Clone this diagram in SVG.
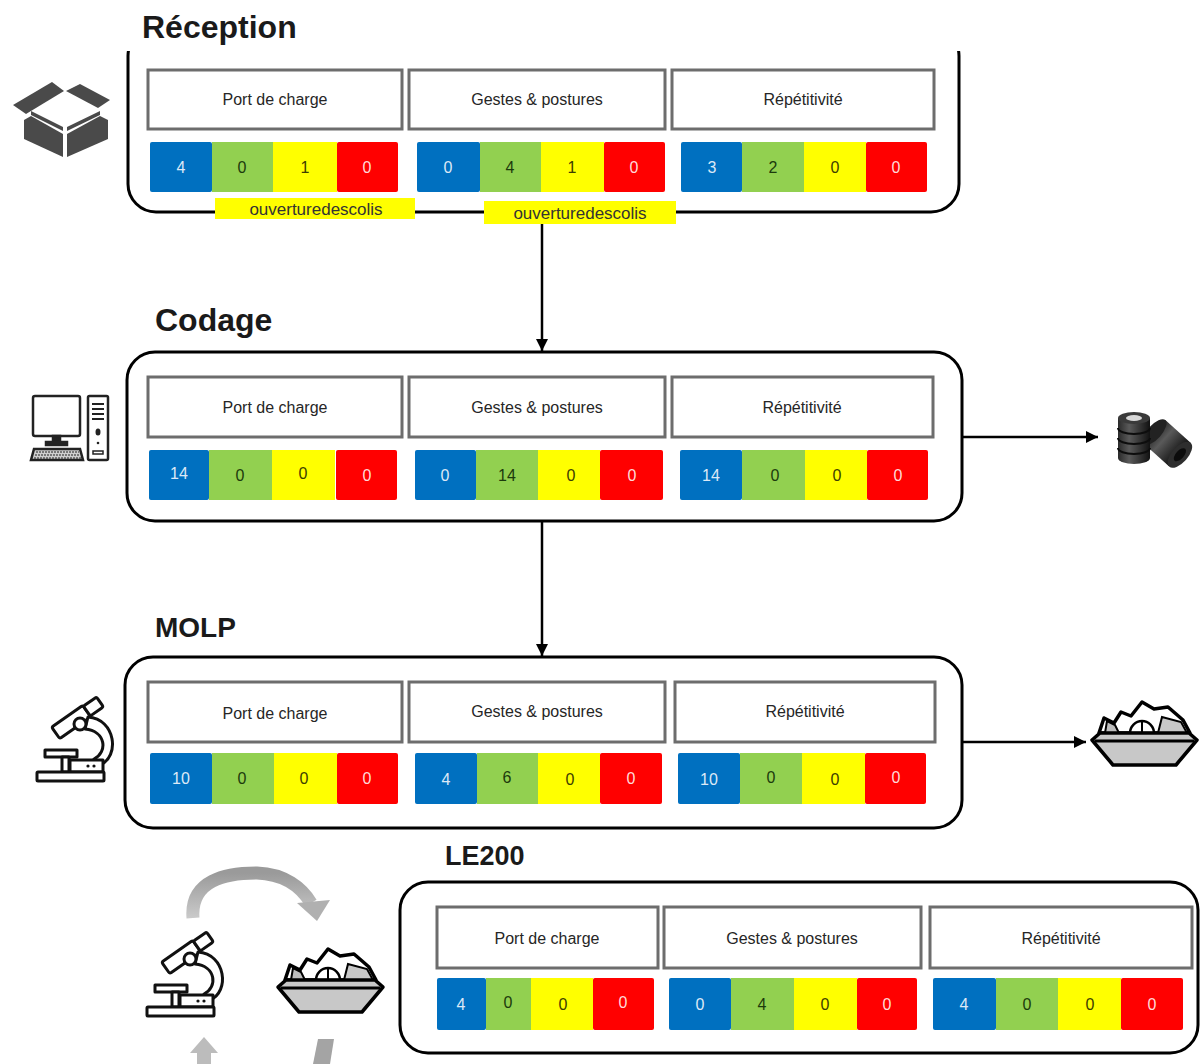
<svg xmlns="http://www.w3.org/2000/svg" width="1203" height="1064" viewBox="0 0 1203 1064">
  <style>
    .panel { fill: none; stroke: #000; stroke-width: 3; }
    .hdr { fill: #fff; stroke: #6d6d6d; stroke-width: 3; }
    .ht { font-family: "Liberation Sans", Arial, sans-serif; font-size: 16px; fill: #262626; text-anchor: middle; }
    .title { font-family: "Liberation Sans", Arial, sans-serif; font-weight: bold; fill: #1a1a1a; }
    .b { fill: #0070c0; } .g { fill: #92d050; } .y { fill: #ffff00; } .r { fill: #ff0000; }
    .n { font-family: "Liberation Sans", Arial, sans-serif; font-size: 16px; text-anchor: middle; }
    .nb { fill: #dce9f7; } .ng { fill: #1c3a0c; } .ny { fill: #3d3d00; } .nr { fill: #ffd9d9; }
    .lbl { fill: #ffff00; }
    .lt { font-family: "Liberation Sans", Arial, sans-serif; font-size: 17px; fill: #333; text-anchor: middle; }
    .conn { fill: none; stroke: #000; stroke-width: 2.5; }
    .ico { fill: #fff; stroke: #111; stroke-width: 3; stroke-linejoin: round; }
  </style>
  <defs>
    <marker id="arrow" viewBox="0 0 10 10" refX="10" refY="5" markerWidth="5" markerHeight="5" orient="auto">
      <path d="M0,0 L10,5 L0,10 Z" fill="#000"/>
    </marker>
    <clipPath id="topClip"><rect x="0" y="51" width="1203" height="200"/></clipPath>
    <linearGradient id="greyArc" x1="0" y1="0" x2="0" y2="1">
      <stop offset="0" stop-color="#9a9a9a"/>
      <stop offset="1" stop-color="#cacaca"/>
    </linearGradient>
    <linearGradient id="rollShade" x1="0" y1="0" x2="1" y2="0">
      <stop offset="0" stop-color="#2a2a2a"/>
      <stop offset="0.35" stop-color="#5a5a5a"/>
      <stop offset="1" stop-color="#111"/>
    </linearGradient>
    <!-- microscope outline icon, 80x86 -->
    <g id="microscope">
      <g transform="translate(47,21) rotate(-35)">
        <rect class="ico" x="-26" y="-7" width="38" height="14" rx="2"/>
        <rect class="ico" x="12" y="-6" width="16" height="12" rx="2"/>
      </g>
      <path class="ico" d="M58,20 C86,22 90,60 70,68 L64,62 C78,55 76,34 55,32 Z"/>
      <circle class="ico" cx="50" cy="27" r="6"/>
      <rect class="ico" x="15" y="53" width="32" height="7"/>
      <rect class="ico" x="32" y="60" width="7" height="15"/>
      <rect class="ico" x="40" y="63" width="33" height="12"/>
      <circle cx="58" cy="69" r="1.6" fill="#111"/>
      <circle cx="64" cy="69" r="1.6" fill="#111"/>
      <rect class="ico" x="7" y="75" width="67" height="9" rx="1"/>
    </g>
    <!-- bowl of shards icon, 105x68 -->
    <g id="bowl">
      <path d="M7,33 L12,18 L22,23 L29,12 L39,16 L50,2 L62,9 L76,7 L91,20 L98,33 Z" fill="#fff" stroke="#000" stroke-width="3.5" stroke-linejoin="round"/>
      <path d="M13,33 L15,21 L23,25 L27,33 Z" fill="#bdbdbd" stroke="#000" stroke-width="2"/>
      <path d="M66,33 L70,17 L89,22 L95,33 Z" fill="#c8c8c8" stroke="#000" stroke-width="2"/>
      <path d="M38,33 A12,12 0 0 1 62,33 Z" fill="#fff" stroke="#000" stroke-width="2.5"/>
      <path d="M50,21 L50,33" stroke="#000" stroke-width="2"/>
      <path d="M0,40 L8,33 L97,33 L105,40 L84,65 L21,65 Z" fill="#c8c8c8" stroke="#000" stroke-width="3.5" stroke-linejoin="round"/>
      <path d="M3,41 L102,41" stroke="#000" stroke-width="3"/>
    </g>
  </defs>

  <rect width="1203" height="1064" fill="#fff"/>

  <!-- station titles -->
  <text class="title" x="142" y="38" font-size="32">Réception</text>
  <text class="title" x="155" y="331" font-size="32">Codage</text>
  <text class="title" x="155" y="637" font-size="28">MOLP</text>
  <text class="title" x="445" y="865" font-size="27">LE200</text>

  <!-- connectors -->
  <g id="connectors">
    <path class="conn" d="M542,224 L542,351" marker-end="url(#arrow)"/>
    <path class="conn" d="M542,521 L542,656" marker-end="url(#arrow)"/>
    <path class="conn" d="M962,437 L1098,437" marker-end="url(#arrow)"/>
    <path class="conn" d="M962,742 L1086,742" marker-end="url(#arrow)"/>
  </g>

  <!-- Réception -->
  <g id="reception">
    <rect class="panel" x="128" y="28" width="831" height="184" rx="28" clip-path="url(#topClip)"/>
    <rect class="hdr" x="148" y="70" width="254" height="59"/>
    <rect class="hdr" x="409" y="70" width="256" height="59"/>
    <rect class="hdr" x="672" y="70" width="262" height="59"/>
    <text class="ht" x="275" y="105">Port de charge</text>
    <text class="ht" x="537" y="105">Gestes &amp; postures</text>
    <text class="ht" x="803" y="105">Répétitivité</text>
    <rect class="b" x="150" y="142" width="62" height="50" rx="2"/>
    <rect class="g" x="212" y="142" width="61" height="50"/>
    <rect class="y" x="273" y="142" width="64" height="50"/>
    <rect class="r" x="337" y="142" width="61" height="50" rx="2"/>
    <rect class="b" x="417" y="142" width="63" height="50" rx="2"/>
    <rect class="g" x="480" y="142" width="61" height="50"/>
    <rect class="y" x="541" y="142" width="63" height="50"/>
    <rect class="r" x="604" y="142" width="61" height="50" rx="2"/>
    <rect class="b" x="681" y="142" width="61" height="50" rx="2"/>
    <rect class="g" x="742" y="142" width="62" height="50"/>
    <rect class="y" x="804" y="142" width="62" height="50"/>
    <rect class="r" x="866" y="142" width="61" height="50" rx="2"/>
    <text class="n nb" x="181" y="173">4</text>
    <text class="n ng" x="242" y="173">0</text>
    <text class="n ny" x="305" y="173">1</text>
    <text class="n nr" x="367" y="173">0</text>
    <text class="n nb" x="448" y="173">0</text>
    <text class="n ng" x="510" y="173">4</text>
    <text class="n ny" x="572" y="173">1</text>
    <text class="n nr" x="634" y="173">0</text>
    <text class="n nb" x="712" y="173">3</text>
    <text class="n ng" x="773" y="173">2</text>
    <text class="n ny" x="835" y="173">0</text>
    <text class="n nr" x="896" y="173">0</text>
    <rect class="lbl" x="215" y="198" width="200" height="21"/>
    <text class="lt" x="316" y="215">ouverturedescolis</text>
    <rect class="lbl" x="484" y="201" width="192" height="23"/>
    <text class="lt" x="580" y="219">ouverturedescolis</text>
  </g>

  <!-- Codage -->
  <g id="codage">
    <rect class="panel" x="127" y="352" width="835" height="169" rx="28"/>
    <rect class="hdr" x="148" y="377" width="254" height="60"/>
    <rect class="hdr" x="409" y="377" width="256" height="60"/>
    <rect class="hdr" x="672" y="377" width="261" height="60"/>
    <text class="ht" x="275" y="413">Port de charge</text>
    <text class="ht" x="537" y="413">Gestes &amp; postures</text>
    <text class="ht" x="802" y="413">Répétitivité</text>
    <rect class="b" x="149" y="450" width="60" height="50" rx="2"/>
    <rect class="g" x="209" y="450" width="63" height="50"/>
    <rect class="y" x="272" y="450" width="63" height="50"/>
    <rect class="r" x="336" y="450" width="61" height="50" rx="2"/>
    <rect class="b" x="415" y="450" width="61" height="50" rx="2"/>
    <rect class="g" x="476" y="450" width="62" height="50"/>
    <rect class="y" x="538" y="450" width="62" height="50"/>
    <rect class="r" x="600" y="450" width="63" height="50" rx="2"/>
    <rect class="b" x="680" y="450" width="62" height="50" rx="2"/>
    <rect class="g" x="742" y="450" width="63" height="50"/>
    <rect class="y" x="805" y="450" width="62" height="50"/>
    <rect class="r" x="867" y="450" width="61" height="50" rx="2"/>
    <text class="n nb" x="179" y="479">14</text>
    <text class="n ng" x="240" y="481">0</text>
    <text class="n ny" x="303" y="479">0</text>
    <text class="n nr" x="367" y="481">0</text>
    <text class="n nb" x="445" y="481">0</text>
    <text class="n ng" x="507" y="481">14</text>
    <text class="n ny" x="571" y="481">0</text>
    <text class="n nr" x="632" y="481">0</text>
    <text class="n nb" x="711" y="481">14</text>
    <text class="n ng" x="775" y="481">0</text>
    <text class="n ny" x="837" y="481">0</text>
    <text class="n nr" x="898" y="481">0</text>
  </g>

  <!-- MOLP -->
  <g id="molp">
    <rect class="panel" x="125" y="657" width="837" height="171" rx="28"/>
    <rect class="hdr" x="148" y="682" width="254" height="60"/>
    <rect class="hdr" x="409" y="682" width="256" height="60"/>
    <rect class="hdr" x="675" y="682" width="260" height="60"/>
    <text class="ht" x="275" y="719">Port de charge</text>
    <text class="ht" x="537" y="717">Gestes &amp; postures</text>
    <text class="ht" x="805" y="717">Répétitivité</text>
    <rect class="b" x="150" y="753" width="62" height="51" rx="2"/>
    <rect class="g" x="212" y="753" width="62" height="51"/>
    <rect class="y" x="274" y="753" width="63" height="51"/>
    <rect class="r" x="337" y="753" width="61" height="51" rx="2"/>
    <rect class="b" x="415" y="753" width="62" height="51" rx="2"/>
    <rect class="g" x="477" y="753" width="61" height="51"/>
    <rect class="y" x="538" y="753" width="62" height="51"/>
    <rect class="r" x="600" y="753" width="62" height="51" rx="2"/>
    <rect class="b" x="678" y="753" width="62" height="51" rx="2"/>
    <rect class="g" x="740" y="753" width="62" height="51"/>
    <rect class="y" x="802" y="753" width="63" height="51"/>
    <rect class="r" x="865" y="753" width="61" height="51" rx="2"/>
    <text class="n nb" x="181" y="784">10</text>
    <text class="n ng" x="242" y="784">0</text>
    <text class="n ny" x="304" y="784">0</text>
    <text class="n nr" x="367" y="784">0</text>
    <text class="n nb" x="446" y="785">4</text>
    <text class="n ng" x="507" y="783">6</text>
    <text class="n ny" x="570" y="785">0</text>
    <text class="n nr" x="631" y="784">0</text>
    <text class="n nb" x="709" y="785">10</text>
    <text class="n ng" x="771" y="783">0</text>
    <text class="n ny" x="835" y="785">0</text>
    <text class="n nr" x="896" y="783">0</text>
  </g>

  <!-- LE200 -->
  <g id="le200">
    <rect class="panel" x="400" y="882" width="798" height="171" rx="28"/>
    <rect class="hdr" x="437" y="907" width="221" height="61"/>
    <rect class="hdr" x="664" y="907" width="257" height="61"/>
    <rect class="hdr" x="930" y="907" width="262" height="61"/>
    <text class="ht" x="547" y="944">Port de charge</text>
    <text class="ht" x="792" y="944">Gestes &amp; postures</text>
    <text class="ht" x="1061" y="944">Répétitivité</text>
    <rect class="b" x="437" y="978" width="49" height="52" rx="2"/>
    <rect class="g" x="486" y="978" width="45" height="52"/>
    <rect class="y" x="531" y="978" width="62" height="52"/>
    <rect class="r" x="593" y="978" width="61" height="52" rx="2"/>
    <rect class="b" x="669" y="978" width="62" height="52" rx="2"/>
    <rect class="g" x="731" y="978" width="63" height="52"/>
    <rect class="y" x="794" y="978" width="63" height="52"/>
    <rect class="r" x="857" y="978" width="60" height="52" rx="2"/>
    <rect class="b" x="933" y="978" width="63" height="52" rx="2"/>
    <rect class="g" x="996" y="978" width="62" height="52"/>
    <rect class="y" x="1058" y="978" width="63" height="52"/>
    <rect class="r" x="1121" y="978" width="62" height="52" rx="2"/>
    <text class="n nb" x="461" y="1010">4</text>
    <text class="n ng" x="508" y="1008">0</text>
    <text class="n ny" x="563" y="1010">0</text>
    <text class="n nr" x="623" y="1008">0</text>
    <text class="n nb" x="700" y="1010">0</text>
    <text class="n ng" x="762" y="1010">4</text>
    <text class="n ny" x="825" y="1010">0</text>
    <text class="n nr" x="887" y="1010">0</text>
    <text class="n nb" x="964" y="1010">4</text>
    <text class="n ng" x="1027" y="1010">0</text>
    <text class="n ny" x="1090" y="1010">0</text>
    <text class="n nr" x="1152" y="1010">0</text>
  </g>

  <!-- open parcel icon -->
  <g id="icon-parcel" fill="#4a4a4a">
    <!-- flaps folded open -->
    <polygon points="13,105 52,82 64,91 26,114"/>
    <polygon points="66,91 80,84 110,100 98,108"/>
    <!-- front faces, split by a white seam -->
    <polygon points="24,120 31,116 63,134 63,157 24,139"/>
    <polygon points="67,134 100,116 108,120 108,139 67,157"/>
    <!-- front flaps folded down over the faces -->
    <polygon points="31,111 63,127 63,131 31,115" />
    <polygon points="67,127 100,111 100,115 67,131" />
  </g>

  <!-- desktop computer icon -->
  <g id="icon-computer" fill="none" stroke="#222" stroke-width="2.5">
    <rect x="33" y="396" width="47" height="40" rx="2"/>
    <rect x="53" y="436" width="7" height="6" fill="#222"/>
    <rect x="46" y="442" width="21" height="3" fill="#222"/>
    <polygon points="34,449 80,449 83,460 31,460" fill="#cfcfcf"/>
    <path d="M36,452 L79,452 M35,455 L80,455 M34,458 L81,458" stroke-width="1" stroke-dasharray="2,1"/>
    <rect x="88" y="396" width="20" height="64" rx="1.5"/>
    <path d="M92,404 L104,404 M92,409 L104,409 M92,414 L104,414 M92,419 L104,419" stroke-width="2"/>
    <ellipse cx="98" cy="432" rx="2.5" ry="3.5" fill="#222" stroke="none"/>
    <circle cx="98" cy="443" r="1.3" fill="#222" stroke="none"/>
    <rect x="93" y="451" width="10" height="3" stroke-width="1.5"/>
  </g>

  <!-- tape rolls icon -->
  <g id="icon-rolls">
    <!-- leaning roll, open face toward lower right -->
    <g transform="rotate(42 1168 444)">
      <rect x="1150" y="428" width="34" height="32" fill="url(#rollShade)"/>
      <ellipse cx="1150" cy="444" rx="7" ry="16" fill="#222"/>
      <ellipse cx="1184" cy="444" rx="8" ry="16" fill="#2e2e2e"/>
      <ellipse cx="1184" cy="444" rx="4" ry="8" fill="#0c0c0c"/>
    </g>
    <!-- upright roll -->
    <path d="M1118,418 L1118,458 A16,6 0 0 0 1150,458 L1150,418 Z" fill="url(#rollShade)"/>
    <path d="M1118,428 A16,6 0 0 0 1150,428 M1118,438 A16,6 0 0 0 1150,438 M1118,448 A16,6 0 0 0 1150,448" fill="none" stroke="#0d0d0d" stroke-width="2"/>
    <ellipse cx="1134" cy="418" rx="16" ry="6" fill="#3a3a3a"/>
    <ellipse cx="1134" cy="418" rx="8" ry="3" fill="#d8d8d8"/>
  </g>

  <!-- microscope and bowl icons -->
  <use href="#microscope" x="30" y="697"/>
  <use href="#bowl" x="1092" y="700"/>
  <use href="#microscope" x="140" y="932"/>
  <use href="#bowl" x="278" y="947"/>

  <!-- grey cycle arrows -->
  <g id="cycle">
    <path d="M193,918 C190,880 226,873 257,873 C285,874 302,888 311,903" fill="none" stroke="url(#greyArc)" stroke-width="13"/>
    <polygon points="297,903 330,900 317,921" fill="#b0b0b0"/>
    <polygon points="190,1053 204,1037 218,1053 211,1053 211,1064 197,1064 197,1053" fill="#bcbcbc"/>
    <polygon points="318,1039 334,1039 330,1064 313,1064" fill="#a4a4a4"/>
  </g>
</svg>
